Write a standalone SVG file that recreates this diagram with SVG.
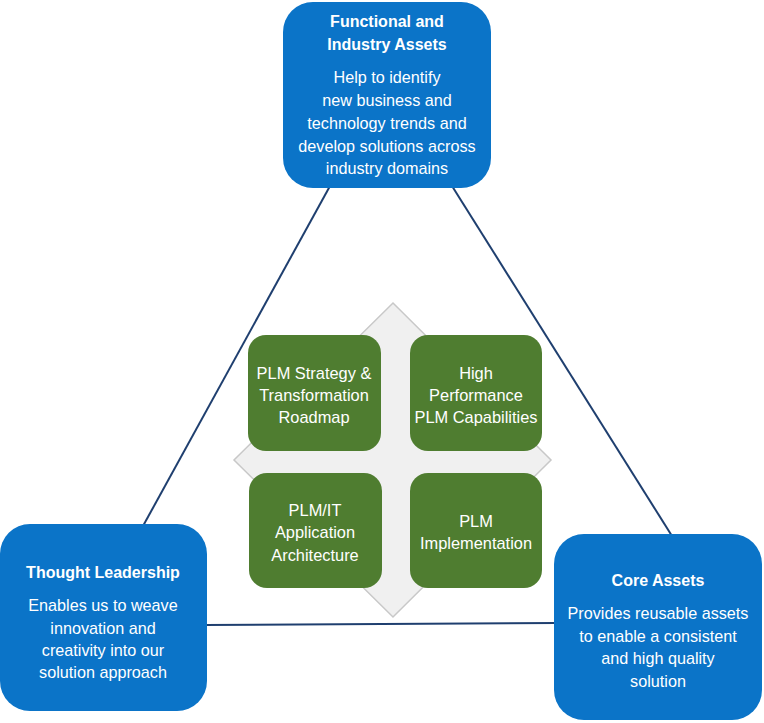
<svg xmlns="http://www.w3.org/2000/svg" width="764" height="723" viewBox="0 0 764 723">
<style>
.blue{fill:#0b74c8}
.green{fill:#4f7d30}
.t{font-family:"Liberation Sans",Arial,sans-serif;fill:#fff;text-anchor:middle;font-size:16.2px}
.b{font-weight:bold;font-size:16px}
.g{font-family:"Liberation Sans",Arial,sans-serif;fill:#fff;text-anchor:middle;font-size:16.4px}
.ln{stroke:#1f3f6f;stroke-width:2;fill:none}
</style>
<rect width="764" height="723" fill="#fff"/>
<g id="connectors">
<line class="ln" x1="330" y1="186" x2="143" y2="526"/>
<line class="ln" x1="452" y1="186" x2="672" y2="536"/>
<line class="ln" x1="205" y1="625" x2="556" y2="623"/>
</g>
<g id="diamond">
<polygon points="393,303 551,460 393,617 234,460" fill="#f0f0f0" stroke="#c8c8c8" stroke-width="1.5"/>
</g>
<g id="top">
<rect class="blue" x="283" y="2" width="208" height="186" rx="30"/>
<text class="t b" x="387" y="27">Functional and</text>
<text class="t b" x="387" y="50">Industry Assets</text>
<text class="t" x="387" y="83">Help to identify</text>
<text class="t" x="387" y="106">new business and</text>
<text class="t" x="387" y="129">technology trends and</text>
<text class="t" x="387" y="152">develop solutions across</text>
<text class="t" x="387" y="174">industry domains</text>
</g>
<g id="left">
<rect class="blue" x="0" y="524" width="207" height="187" rx="30"/>
<text class="t b" x="103" y="578">Thought Leadership</text>
<text class="t" x="103" y="611">Enables us to weave</text>
<text class="t" x="103" y="634">innovation and</text>
<text class="t" x="103" y="656">creativity into our</text>
<text class="t" x="103" y="678">solution approach</text>
</g>
<g id="right">
<rect class="blue" x="554" y="534" width="208" height="186" rx="30"/>
<text class="t b" x="658" y="586">Core Assets</text>
<text class="t" x="658" y="619">Provides reusable assets</text>
<text class="t" x="658" y="642">to enable a consistent</text>
<text class="t" x="658" y="664">and high quality</text>
<text class="t" x="658" y="687">solution</text>
</g>
<g id="g1">
<rect class="green" x="248" y="335" width="133" height="116" rx="18"/>
<text class="g" x="314" y="379">PLM Strategy &amp;</text>
<text class="g" x="314" y="401">Transformation</text>
<text class="g" x="314" y="423">Roadmap</text>
</g>
<g id="g2">
<rect class="green" x="410" y="335" width="132" height="116" rx="18"/>
<text class="g" x="476" y="379">High</text>
<text class="g" x="476" y="401">Performance</text>
<text class="g" x="476" y="423">PLM Capabilities</text>
</g>
<g id="g3">
<rect class="green" x="249" y="473" width="133" height="115" rx="18"/>
<text class="g" x="315" y="516">PLM/IT</text>
<text class="g" x="315" y="538">Application</text>
<text class="g" x="315" y="561">Architecture</text>
</g>
<g id="g4">
<rect class="green" x="410" y="473" width="132" height="115" rx="18"/>
<text class="g" x="476" y="527">PLM</text>
<text class="g" x="476" y="549">Implementation</text>
</g>
</svg>
